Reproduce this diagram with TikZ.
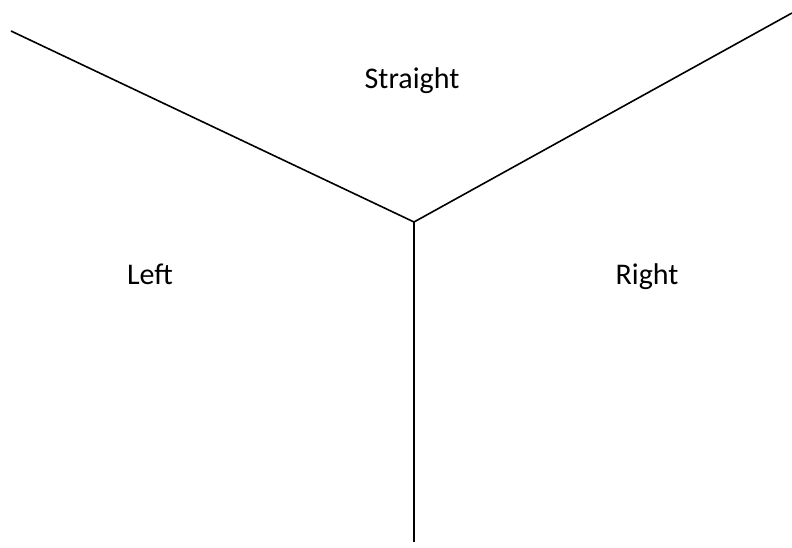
\documentclass[tikz,border=0pt]{standalone}
\usepackage{fontspec}
\setmainfont{Carlito}
\begin{document}
\begin{tikzpicture}[x=1pt,y=-1pt,
  road/.style={draw=black,line width=1.6pt},
  lbl/.style={font=\fontsize{30}{36}\selectfont,inner sep=0pt,anchor=base}]
\useasboundingbox (0,0) rectangle (792,548);
\coordinate (j) at (414,222);
\coordinate (tl) at (11,31);
\coordinate (tr) at (792,13);
\coordinate (b) at (414,542);
\draw[road] (tl) -- (j);
\draw[road] (j) -- (tr);
\draw[road] (j) -- (b);
\node[lbl] (straight) at (412,89) {Straight};
\node[lbl] (left) at (150,284) {Left};
\node[lbl] (right) at (647,284) {Right};
\end{tikzpicture}
\end{document}
